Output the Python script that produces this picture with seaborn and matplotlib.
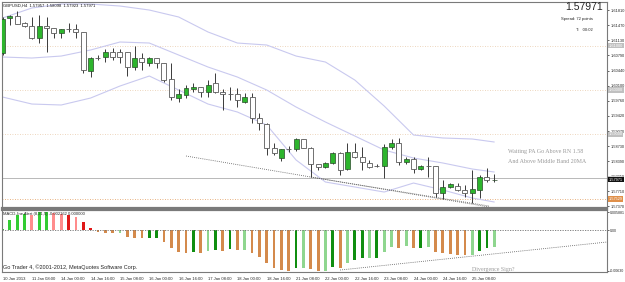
import numpy as np
import pandas as pd
import seaborn as sns
import matplotlib.pyplot as plt
from matplotlib.transforms import blended_transform_factory

# GBPUSD H4 candles (bar 0 = 10 Jan 2013 16:00)
opens = [1.60838, 1.61632, 1.61677, 1.61519, 1.61451, 1.61179, 1.61451, 1.61405, 1.61292, 1.61383,
         1.61383, 1.61315, 1.60430, 1.60725, 1.60748, 1.60861, 1.60861, 1.60861, 1.60521, 1.60725,
         1.60612, 1.60725, 1.60612, 1.60249, 1.59818, 1.59886, 1.60022, 1.60068, 1.59954, 1.60158,
         1.59954, 1.59909, 1.59909, 1.59728, 1.59841, 1.59365, 1.59229, 1.58685, 1.58458, 1.58662,
         1.58662, 1.58889, 1.58685, 1.58322, 1.58254, 1.58345, 1.58571, 1.58209, 1.58594, 1.58481,
         1.58345, 1.58277, 1.58277, 1.58708, 1.58798, 1.58367, 1.58435, 1.58209, 1.58277, 1.58277,
         1.57665, 1.57801, 1.57823, 1.57733, 1.57665, 1.57733, 1.58027, 1.57957]
highs = [1.61655, 1.61700, 1.61791, 1.61541, 1.61655, 1.61700, 1.61655, 1.61405, 1.61383, 1.61519,
         1.61496, 1.61320, 1.60748, 1.60793, 1.60929, 1.60952, 1.60929, 1.60865, 1.60997, 1.60838,
         1.60748, 1.60730, 1.60615, 1.60612, 1.60022, 1.60113, 1.60158, 1.60070, 1.60226, 1.60385,
         1.60022, 1.60068, 1.60045, 1.59932, 1.59932, 1.59478, 1.59252, 1.58798, 1.58665, 1.58730,
         1.58912, 1.58892, 1.58708, 1.58325, 1.58367, 1.58594, 1.58594, 1.58798, 1.58798, 1.58708,
         1.58413, 1.58322, 1.58776, 1.58889, 1.58912, 1.58481, 1.58481, 1.58299, 1.58481, 1.58280,
         1.57959, 1.57891, 1.57891, 1.57846, 1.58186, 1.58073, 1.58231, 1.58098]
lows = [1.60793, 1.61473, 1.61496, 1.61428, 1.61156, 1.61065, 1.60861, 1.61179, 1.61179, 1.61315,
        1.61179, 1.60385, 1.60294, 1.60680, 1.60634, 1.60680, 1.60612, 1.60317, 1.60453, 1.60453,
        1.60544, 1.60498, 1.60181, 1.59773, 1.59728, 1.59818, 1.59954, 1.59841, 1.59841, 1.59932,
        1.59546, 1.59773, 1.59614, 1.59705, 1.59252, 1.59093, 1.58526, 1.58526, 1.58390, 1.58594,
        1.58617, 1.58685, 1.58027, 1.58186, 1.58231, 1.58322, 1.58073, 1.58186, 1.58458, 1.58186,
        1.58231, 1.58254, 1.58005, 1.58662, 1.58299, 1.58322, 1.58118, 1.58186, 1.58027, 1.57574,
        1.57529, 1.57778, 1.57710, 1.57574, 1.57438, 1.57551, 1.57914, 1.57923]
closes = [1.61609, 1.61677, 1.61496, 1.61451, 1.61179, 1.61451, 1.61405, 1.61292, 1.61383, 1.61380,
          1.61315, 1.60453, 1.60725, 1.60722, 1.60861, 1.60748, 1.60748, 1.60521, 1.60725, 1.60634,
          1.60725, 1.60612, 1.60226, 1.59841, 1.59909, 1.60045, 1.60068, 1.59954, 1.60113, 1.59954,
          1.59909, 1.59906, 1.59773, 1.59841, 1.59365, 1.59252, 1.58685, 1.58571, 1.58662, 1.58660,
          1.58889, 1.58680, 1.58322, 1.58254, 1.58345, 1.58571, 1.58186, 1.58594, 1.58481, 1.58367,
          1.58254, 1.58275, 1.58708, 1.58798, 1.58367, 1.58435, 1.58209, 1.58277, 1.58275, 1.57665,
          1.57801, 1.57869, 1.57733, 1.57665, 1.57755, 1.58027, 1.57959, 1.57971]

# Bollinger bands (20), read every 4 bars
band_bars = [0, 4, 8, 12, 16, 20, 24, 28, 32, 36, 40, 44, 48, 52, 56, 60, 64, 67]
band_upper = [1.61632, 1.61859, 1.61949, 1.61949, 1.61904, 1.61813, 1.61655, 1.61315, 1.61065,
              1.61020, 1.60770, 1.60634, 1.60226, 1.59637, 1.58980, 1.58912, 1.58889, 1.58821]
band_mid = [1.60748, 1.60725, 1.60770, 1.60907, 1.61088, 1.61065, 1.60793, 1.60521, 1.60294,
            1.60000, 1.59614, 1.59274, 1.58957, 1.58640, 1.58458, 1.58345, 1.58209, 1.58141]
band_lower = [1.59841, 1.59682, 1.59660, 1.59818, 1.60090, 1.60317, 1.60000, 1.59682, 1.59501,
              1.59206, 1.58413, 1.57914, 1.57801, 1.57687, 1.57891, 1.57733, 1.57551, 1.57461]

# MACD histogram
macd = [0.00013, 0.00127, 0.00191, 0.00203, 0.00191, 0.00229, 0.00229, 0.00216, 0.00203, 0.00191,
        0.00165, 0.00102, 0.00025, -0.00025, -0.00038, -0.00040, -0.00038, -0.00089, -0.00102, -0.00104,
        -0.00102, -0.00099, -0.00152, -0.00229, -0.00279, -0.00292, -0.00279, -0.00292, -0.00267, -0.00254,
        -0.00267, -0.00241, -0.00254, -0.00251, -0.00292, -0.00343, -0.00419, -0.00483, -0.00508, -0.00521,
        -0.00483, -0.00480, -0.00495, -0.00521, -0.00518, -0.00470, -0.00483, -0.00419, -0.00381, -0.00356,
        -0.00353, -0.00350, -0.00279, -0.00216, -0.00229, -0.00203, -0.00229, -0.00226, -0.00216, -0.00279,
        -0.00292, -0.00305, -0.00318, -0.00320, -0.00317, -0.00267, -0.00229, -0.002162]
macd_kind = ['up', 'up', 'up', 'up', 'fall2', 'up', 'up', 'fall2', 'fall2', 'fall',
             'fall2', 'fall', 'fall', 'dn', 'dn', 'dn', 'rise2', 'dn', 'dn', 'dn',
             'rise', 'rise', 'dn', 'dn', 'dn', 'dn', 'rise', 'dn', 'rise2', 'rise',
             'dn', 'rise', 'dn', 'rise2', 'dn', 'dn', 'dn', 'dn', 'dn', 'dn',
             'rise', 'rise2', 'dn', 'dn', 'rise2', 'rise', 'dn', 'rise2', 'rise', 'rise',
             'rise2', 'rise', 'rise2', 'rise2', 'dn', 'rise2', 'dn', 'rise', 'rise2', 'dn',
             'dn', 'dn', 'dn', 'dn', 'rise2', 'rise', 'rise', 'rise2']

date_bars = [0, 4, 8, 12, 16, 20, 24, 28, 32, 36, 40, 44, 48, 52, 56, 60, 64]
date_labels = ['10 Jan 2013', '11 Jan 08:00', '14 Jan 00:00', '14 Jan 16:00', '15 Jan 08:00',
               '16 Jan 00:00', '16 Jan 16:00', '17 Jan 08:00', '18 Jan 00:00', '18 Jan 16:00',
               '21 Jan 08:00', '22 Jan 00:00', '22 Jan 16:00', '23 Jan 08:00', '24 Jan 00:00',
               '24 Jan 16:00', '25 Jan 08:00']
price_ticks = [1.61810, 1.61470, 1.61130, 1.60790, 1.60440, 1.60100, 1.59760, 1.59420,
               1.59070, 1.58730, 1.58390, 1.58050, 1.57710, 1.57370]
round_levels = [1.61, 1.60, 1.59, 1.58]
stop_level = 1.57529

# hand-drawn trend lines (bar, price) and MACD divergence line (bar, value)
trend_a = ([25.0, 66.3], [1.58504, 1.57347])
trend_b = ([42.0, 66.3], [1.58027, 1.57370])
div_line = ([46.0, 82.4], [-0.00508, -0.00152])

sns.set_style("white")
plt.rcParams['font.family'] = ['Liberation Sans', 'DejaVu Sans']

fig = plt.figure(figsize=(6.25, 2.82), dpi=100, facecolor='white')
ax = fig.add_axes([2 / 625, 74 / 282, 605 / 625, 206 / 282])
axm = fig.add_axes([2 / 625, 10 / 282, 605 / 625, 62 / 282])

x = np.arange(len(closes))
o = np.array(opens)
c = np.array(closes)

# levels
for lv in round_levels[:3]:
    ax.axhline(lv, color='#e8c9a8', lw=0.6, ls=(0, (1, 2)))
ax.axhline(round_levels[3], color='#b8b8b8', lw=0.7)
ax.axhline(stop_level, color='#e09a5a', lw=0.6, ls=(0, (1, 2)))

# bands
bands = pd.DataFrame({'bar': band_bars, 'upper': band_upper, 'mid': band_mid, 'lower': band_lower})
for col in ['upper', 'mid', 'lower']:
    sns.lineplot(data=bands, x='bar', y=col, ax=ax, color='#c9c9ef', lw=0.8)

# candles
ax.vlines(x, lows, highs, color='#3a3a3a', lw=0.7, zorder=3)
bull = c > o
ax.bar(x[bull], (c - o)[bull], bottom=o[bull], width=0.68, color='#2db52d',
       edgecolor='#2a4a2a', lw=0.5, zorder=4)
ax.bar(x[~bull], (o - c)[~bull], bottom=c[~bull], width=0.68, color='white',
       edgecolor='#5a5a5a', lw=0.6, zorder=4)

ax.plot(*trend_a, color='#555555', lw=0.6, ls=(0, (1, 1.5)))
ax.plot(*trend_b, color='#555555', lw=0.6, ls=(0, (1, 1.5)))

ax.set_xlim(-0.07, 82.36)
ax.set_ylim(1.57325, 1.61995)
ax.set_xlabel('')
ax.set_ylabel('')
ax.set_xticks([])
ax.yaxis.tick_right()
ax.set_yticks(price_ticks)
ax.set_yticklabels([f'{p:.5f}' for p in price_ticks])
ax.tick_params(axis='y', labelsize=2.8, length=1.5, width=0.5, pad=0.8, colors='#222222')

tr = blended_transform_factory(ax.transAxes, ax.transData)
for lv in round_levels:
    ax.text(1.003, lv, f'{lv:.5f}', transform=tr, fontsize=2.8, va='center', ha='left', color='white',
            bbox=dict(boxstyle='square,pad=0.15', fc='#c0c0c0', ec='none'))
ax.text(1.003, closes[-1], f'{closes[-1]:.5f}', transform=tr, fontsize=2.8, va='center', ha='left',
        color='white', bbox=dict(boxstyle='square,pad=0.15', fc='#111111', ec='none'))
ax.text(1.003, stop_level, f'{stop_level:.5f}', transform=tr, fontsize=2.8, va='center', ha='left',
        color='white', bbox=dict(boxstyle='square,pad=0.15', fc='#e0904a', ec='none'))

ax.text(0.002, 0.985, 'GBPUSD,H4  1.57957  1.58098  1.57923  1.57971', transform=ax.transAxes,
        fontsize=3, va='center', ha='left', color='#111111')
ax.text(0.993, 0.976, '1.57971', transform=ax.transAxes, fontsize=7.5, va='center', ha='right')
ax.text(0.977, 0.917, 'Spread: 72 points', transform=ax.transAxes, fontsize=3, va='center', ha='right')
ax.text(0.977, 0.864, 'T:   00:02', transform=ax.transAxes, fontsize=3, va='center', ha='right')
ax.text(0.836, 0.272, 'Waiting PA Go Above RN 1.58', transform=ax.transAxes, fontsize=4.3,
        family='Liberation Serif', color='#9a9a9a', va='center', ha='left')
ax.text(0.836, 0.228, 'And Above Middle Band 20MA', transform=ax.transAxes, fontsize=4.3,
        family='Liberation Serif', color='#9a9a9a', va='center', ha='left')

for s in ax.spines.values():
    s.set_color('#7a7a7a')
    s.set_linewidth(0.8)
ax.spines['bottom'].set_linewidth(1.6)

# MACD panel
kind_colors = {'up': '#33cc33', 'fall2': '#ff8c8c', 'fall': '#e01818', 'dn': '#d48a4c',
               'rise': '#108e10', 'rise2': '#8fd68f'}
mdf = pd.DataFrame({'bar': x, 'macd': macd, 'kind': macd_kind})
for k, grp in mdf.groupby('kind'):
    axm.bar(grp['bar'], grp['macd'], width=0.38, color=kind_colors[k], lw=0)
axm.axhline(0, color='#707070', lw=0.6, ls=(0, (1.5, 1.5)))
axm.plot(*div_line, color='#555555', lw=0.6, ls=(0, (1, 1.5)))

axm.set_xlim(-0.07, 82.36)
axm.set_ylim(-0.005331, 0.002543)
axm.yaxis.tick_right()
axm.set_yticks([0.00225, 0.0, -0.00515])
axm.set_yticklabels(['0.005881', '0.00', '-0.00630'])
axm.tick_params(axis='y', labelsize=2.6, length=1.5, width=0.5, pad=0.5)
axm.set_xticks(date_bars)
axm.set_xticklabels(date_labels, ha='left')
axm.tick_params(axis='x', labelsize=3, length=2, width=0.5, pad=1.5)
axm.set_xlabel('')
axm.set_ylabel('')

axm.text(0.002, 0.935, 'MACD-line Alert (8,21,5) -0.002162 0.000000', transform=axm.transAxes,
         fontsize=3, va='center', ha='left')
axm.text(0.002, 0.07, 'Go Trader 4, ©2001-2012, MetaQuotes Software Corp.', transform=axm.transAxes,
         fontsize=4, va='center', ha='left')
axm.text(0.777, 0.035, 'Divergence Sign?', transform=axm.transAxes, fontsize=4.2,
         family='Liberation Serif', color='#9a9a9a', va='center', ha='left')

for s in axm.spines.values():
    s.set_color('#7a7a7a')
    s.set_linewidth(0.8)
axm.spines['top'].set_linewidth(1.6)

fig.savefig('out.png', dpi=100, facecolor='white')
